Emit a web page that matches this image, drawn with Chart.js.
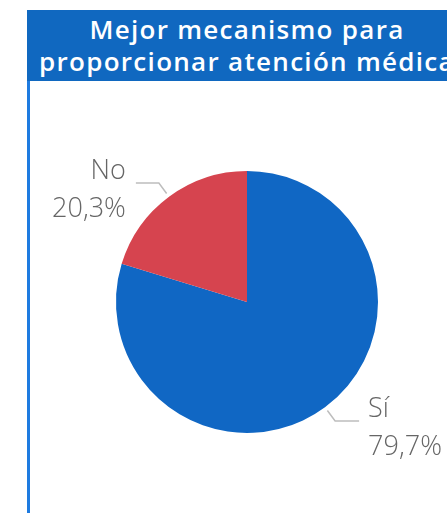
<!DOCTYPE html>
<html lang="es">
<head>
    <meta charset="UTF-8">
    <title>Mejor mecanismo para proporcionar atención médica</title>
    <script src="https://cdn.jsdelivr.net/npm/chart.js"></script>
    <style>
        body{ margin:0; background:#fff; width:447px; height:513px; overflow:hidden; position:relative; }
        #title{
            position:absolute; left:27px; top:10px; width:440px; height:71px;
            background:#1068c0; color:#fff; font-family:"Open Sans", sans-serif; font-weight:600;
            font-size:26px; line-height:32px; text-align:center; white-space:nowrap; overflow:hidden;
            padding-top:3px; box-sizing:border-box; letter-spacing:1.3px;
        }
        #edge{ position:absolute; left:27px; top:81px; width:3px; height:432px; background:#1e7be0; }
        #chart{ position:absolute; left:0; top:0; }
    </style>
</head>
<body>
    <div id="title">Mejor mecanismo para<br>proporcionar atención médica</div>
    <div id="edge"></div>
    <canvas id="chart" width="447" height="513"></canvas>

    <script>
        const labels = ['Sí', 'No'];
        const values = [79.7, 20.3];
        const colors = ['#1067c4', '#d6444f'];

        // leader lines + two-line labels outside the slices
        const outLabels = {
            id: 'outLabels',
            afterDatasetsDraw(chart) {
                const ctx = chart.ctx;
                const meta = chart.getDatasetMeta(0);
                meta.data.forEach((arc, i) => {
                    const p = arc.getProps(['x', 'y', 'startAngle', 'endAngle', 'outerRadius']);
                    const mid = (p.startAngle + p.endAngle) / 2;
                    const cos = Math.cos(mid), sin = Math.sin(mid);
                    const r = p.outerRadius;
                    const x1 = p.x + cos * (r + 4), y1 = p.y + sin * (r + 4);
                    const x2 = p.x + cos * (r + 17), y2 = p.y + sin * (r + 17);
                    const right = cos >= 0;
                    const x3 = x2 + (right ? 24 : -23);
                    ctx.save();
                    ctx.strokeStyle = '#bdbdbd';
                    ctx.lineWidth = 1.5;
                    ctx.beginPath();
                    ctx.moveTo(x1, y1);
                    ctx.lineTo(x2, y2);
                    ctx.lineTo(x3, y2);
                    ctx.stroke();
                    ctx.fillStyle = '#666';
                    ctx.font = '300 27px "Open Sans", sans-serif';
                    ctx.textBaseline = 'middle';
                    ctx.textAlign = right ? 'left' : 'right';
                    const tx = x3 + (right ? 9 : -10);
                    ctx.fillText(labels[i], tx, y2 - 12);
                    ctx.fillText(values[i].toFixed(1).replace('.', ',') + '%', tx, y2 + 26);
                    ctx.restore();
                });
            }
        };

        new Chart(document.getElementById('chart'), {
            type: 'pie',
            data: {
                labels: labels,
                datasets: [{
                    data: values,
                    backgroundColor: colors,
                    borderWidth: 0
                }]
            },
            options: {
                responsive: false,
                animation: false,
                layout: { padding: { left: 116, right: 69, top: 171, bottom: 80 } },
                plugins: {
                    legend: { display: false },
                    tooltip: { enabled: false }
                }
            },
            plugins: [outLabels]
        });
    </script>
</body>
</html>
